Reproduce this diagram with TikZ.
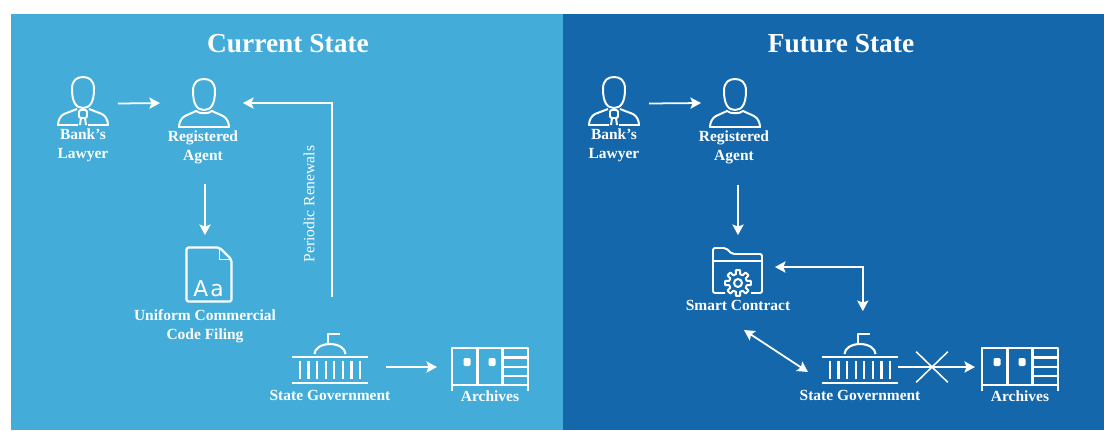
\documentclass[tikz,border=0pt]{standalone}
\usepackage{fontspec}
\setmainfont{Liberation Serif}
\newfontfamily\glyphfont{DejaVu Sans}
\usetikzlibrary{arrows.meta,shapes.misc}
\definecolor{currentblue}{HTML}{43ACD9}
\definecolor{futureblue}{HTML}{1467AB}
\tikzset{
  flowtip/.tip={Stealth[length=7.5pt,width=8pt,inset=1.5pt]},
  flow/.style={draw=white,line width=1.25pt,-flowtip},
  twoway/.style={draw=white,line width=1.25pt,flowtip-flowtip},
  iconbox/.style={inner sep=0pt,outer sep=0pt,minimum width=#1*0.711pt},
  iconline/.style={draw=white,line width=1.4pt,line join=round},
  caption/.style={text=white,font=\fontsize{11}{13.5}\selectfont\bfseries,align=center},
  heading/.style={text=white,font=\fontsize{19.5}{22}\selectfont\bfseries},
  pics/head/.style={code={
    \draw[iconline] (-11,12) .. controls (-11,3) and (-6,0) .. (0,0)
      .. controls (6,0) and (11,3) .. (11,12)
      .. controls (11,25) and (7,31) .. (0,31)
      .. controls (-7,31) and (-11,25) .. (-11,12) -- cycle;
  }},
  pics/agent/.style={code={
    \pic {head};
    \draw[iconline] (-8,32) .. controls (-5,35) and (5,35) .. (8,32) -- (19,37)
      .. controls (23,39) and (25,44) .. (25,48) -- (-25,48)
      .. controls (-25,44) and (-23,39) .. (-19,37) -- cycle;
  }},
  pics/lawyer/.style={code={
    \pic {head};
    \draw[iconline] (-5,48) -- (-25,48) .. controls (-25,44) and (-23,39) .. (-19,37) -- (-6,32);
    \draw[iconline] (5,48) -- (25,48) .. controls (25,44) and (23,39) .. (19,37) -- (6,32);
    \draw[iconline,rounded corners=1pt] (-4,33) rectangle (4,41);
    \draw[iconline] (-2,41) -- (-3,48) (2,41) -- (3,48);
  }},
  pics/filing/.style={code={
    \draw[iconline,line width=1.6pt,rounded corners=1.5pt] (-22,-27) -- (11,-27) -- (23,-15) -- (23,27) -- (-22,27) -- cycle;
    \draw[iconline] (11,-27) -- (11,-15) -- (23,-15);
    \node[text=white,inner sep=0pt,font=\glyphfont\fontsize{15.5}{16}\selectfont] (-glyph) at (0,14) {A\kern1.5pt a};
  }},
  pics/capitol/.style={code={
    \draw[iconline,line width=1.5pt] (-2,-23) -- (-2,-33) -- (10,-33);
    \draw[iconline,line width=1.5pt] (-15.5,-13) arc (180:360:15.5 and 10);
    \draw[iconline,line width=1.7pt] (-38,-10) -- (38,-10) (-38,16) -- (38,16);
    \foreach \i in {0,...,7}
      \draw[iconline,line width=1.7pt] ({-30+8.57*\i},-6) -- ({-30+8.57*\i},12);
  }},
  pics/archive/.style={code={
    \draw[iconline,line width=1.6pt] (-38,24) -- (-38,-19) -- (38,-19) -- (38,24);
    \draw[iconline,line width=1.6pt] (-38,18) -- (38,18);
    \draw[iconline,line width=1.6pt] (-12.5,-19) -- (-12.5,18) (12.5,-19) -- (12.5,18);
    \foreach \y in {-9.5,0,9}
      \draw[iconline,line width=1.6pt] (12.5,\y) -- (38,\y);
    \foreach \x in {-23,2}
      \fill[white,rounded corners=1pt] (\x-3.5,-9) rectangle (\x+3.5,-1);
  }},
  pics/folder/.style={code={
    \draw[iconline,rounded corners=1.5pt] (12,46) -- (0,46) -- (0,1) -- (13,1) -- (19,7) -- (49,7) -- (49,46) -- (38,46);
    \draw[iconline] (0,14) -- (49,14);
    \begin{scope}[shift={(25,36)}]
      \draw[iconline] (-14:9) \foreach \a in {0,45,...,315} {
        -- (\a-14:9) -- (\a-9:13) -- (\a+9:13) -- (\a+14:9)} -- cycle;
      \draw[iconline] (0,0) circle (4);
    \end{scope}
  }}
}

\begin{document}
\begin{tikzpicture}[x=0.025cm,y=-0.025cm]
\useasboundingbox (0,0) rectangle (1104,430);
\fill[currentblue] (11,14) rectangle (563,430);
\fill[futureblue] (563,14) rectangle (1104,430);
\node[heading] (titleL) at (288,44) {Current State};
\node[heading] (titleR) at (841,44) {Future State};

% current state
\node[iconbox=70,minimum height=53pt*0.711] (lawyerL) at (83,103.5) {};
\node[iconbox=78,minimum height=48pt*0.711] (agentL) at (204,103) {};
\node[iconbox=45,minimum height=55pt*0.711] (filingL) at (208.5,274.5) {};
\node[iconbox=76,minimum height=32pt*0.711] (capitolL) at (330,367) {};
\node[iconbox=76,minimum height=46pt*0.711] (archiveL) at (490,367) {};
\pic at (lawyerL.north) {lawyer};
\pic at (agentL.north) {agent};
\pic (fileL) at (filingL) {filing};
\pic at (capitolL) {capitol};
\pic at (archiveL) {archive};
\node[caption] (lawyertextL) at (83,145) {Bank’s\\Lawyer};
\node[caption] (agenttextL) at (203,147) {Registered\\Agent};
\node[caption] (filingtextL) at (205,326) {Uniform Commercial\\Code Filing};
\node[caption] (capitoltextL) at (330,395) {State Government};
\node[caption] (archivetextL) at (490,396) {Archives};
\node[text=white,rotate=90,font=\fontsize{11.1}{13}\selectfont] (renewalsL) at (309,204) {Periodic Renewals};
\draw[flow,shorten >=3.6pt] (lawyerL.east) -- (agentL.west);
\draw[flow,shorten <=40.5pt,shorten >=8.5pt] ([xshift=0.7pt]agentL.south) -- ([xshift=0.7pt]agentL.south |- filingL.north);
\draw[flow,shorten <=38.4pt] ([xshift=1.2pt]capitolL.north) |- (agentL.east);
\draw[flow,shorten <=12.8pt,shorten >=10.7pt] (capitolL.east) -- (archiveL.west);

% future state
\node[iconbox=70,minimum height=53pt*0.711] (lawyerR) at (614,103.5) {};
\node[iconbox=68,minimum height=48pt*0.711] (agentR) at (735,103) {};
\node[iconbox=50,minimum height=40pt*0.711] (folderR) at (738,267) {};
\node[iconbox=76,minimum height=32pt*0.711] (capitolR) at (860,367) {};
\node[iconbox=76,minimum height=46pt*0.711] (archiveR) at (1020,367) {};
\pic at (lawyerR.north) {lawyer};
\pic at (agentR.north) {agent};
\pic at (folderR.north west) {folder};
\pic at (capitolR) {capitol};
\pic at (archiveR) {archive};
\node[caption] (lawyertextR) at (614,145) {Bank’s\\Lawyer};
\node[caption] (agenttextR) at (734,147) {Registered\\Agent};
\node[caption] (foldertextR) at (738,305) {Smart Contract};
\node[caption] (capitoltextR) at (860,395) {State Government};
\node[caption] (archivetextR) at (1020,396) {Archives};
\coordinate (contractend) at (744,330);
\coordinate (capitolend) at (808,372);
\draw[flow] (lawyerR.east) -- (agentR.west);
\draw[flow,shorten <=11.5pt,shorten >=8.5pt] (folderR.north |- agenttextR.south) -- (folderR.north);
\draw[twoway,shorten <=8.5pt,shorten >=28.4pt] (folderR.east) -| ([xshift=2pt]capitolR.north);
\draw[twoway] (contractend) -- (capitolend);
\draw[flow,shorten >=5pt] (capitolR.east) -- (archiveR.west);
\node[cross out,draw=white,line width=1.1pt,inner sep=0pt,minimum width=30*0.711pt,minimum height=29*0.711pt] (blockedR) at (932,367) {};
\end{tikzpicture}
\end{document}
